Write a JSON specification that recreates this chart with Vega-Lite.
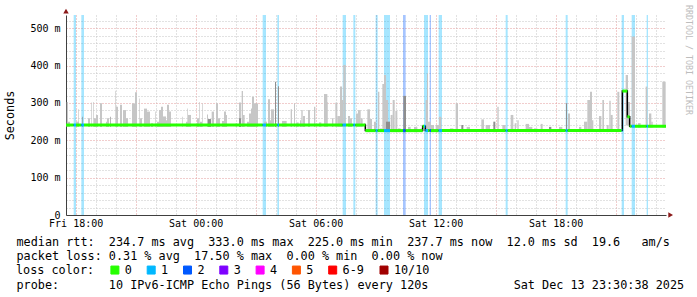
{
"$schema": "https://vega.github.io/schema/vega-lite/v6.json",
"width": 600, "height": 200,
"autosize": {"type": "none"},
"padding": {"left": 66, "top": 15, "right": 31, "bottom": 82},
"background": "white",
"title": {"text": "RRDTOOL / TOBI OETIKER", "orient": "right", "anchor": "start", "frame": "group", "font": "DejaVu Sans Mono", "fontSize": 8.3, "fontWeight": "normal", "color": "#bdbdbd", "offset": 1, "dx": -10},
"config": {"view": {"stroke": null}, "font": "DejaVu Sans Mono", "axis": {"labelFont": "DejaVu Sans Mono", "titleFont": "DejaVu Sans Mono", "labelOverlap": false}},
"datasets": {
"loss": [
{"t0":"2025-12-12T17:54:00Z","t1":"2025-12-12T18:01:00Z","loss":"1"},
{"t0":"2025-12-12T18:17:00Z","t1":"2025-12-12T18:25:00Z","loss":"1"},
{"t0":"2025-12-13T03:21:00Z","t1":"2025-12-13T03:31:00Z","loss":"1"},
{"t0":"2025-12-13T04:05:00Z","t1":"2025-12-13T04:10:00Z","loss":"1"},
{"t0":"2025-12-13T07:21:00Z","t1":"2025-12-13T07:31:00Z","loss":"1"},
{"t0":"2025-12-13T07:53:00Z","t1":"2025-12-13T07:59:00Z","loss":"1"},
{"t0":"2025-12-13T09:00:00Z","t1":"2025-12-13T09:06:00Z","loss":"1"},
{"t0":"2025-12-13T09:25:00Z","t1":"2025-12-13T09:43:00Z","loss":"1"},
{"t0":"2025-12-13T10:22:00Z","t1":"2025-12-13T10:30:00Z","loss":"2"},
{"t0":"2025-12-13T11:25:00Z","t1":"2025-12-13T11:37:00Z","loss":"1"},
{"t0":"2025-12-13T11:42:00Z","t1":"2025-12-13T11:46:00Z","loss":"2"},
{"t0":"2025-12-13T12:09:00Z","t1":"2025-12-13T12:19:00Z","loss":"1"},
{"t0":"2025-12-13T15:30:00Z","t1":"2025-12-13T15:36:00Z","loss":"1"},
{"t0":"2025-12-13T18:30:00Z","t1":"2025-12-13T18:36:00Z","loss":"1"},
{"t0":"2025-12-13T21:18:00Z","t1":"2025-12-13T21:25:00Z","loss":"1"},
{"t0":"2025-12-13T21:48:00Z","t1":"2025-12-13T21:58:00Z","loss":"1"},
{"t0":"2025-12-13T22:33:00Z","t1":"2025-12-13T22:37:00Z","loss":"1"}
],
"smoke": [
{"t0":"2025-12-12T17:33:00Z","t1":"2025-12-12T17:37:00Z","lo":236,"hi":303},
{"t0":"2025-12-12T17:37:00Z","t1":"2025-12-12T17:43:00Z","lo":236,"hi":250},
{"t0":"2025-12-12T18:01:00Z","t1":"2025-12-12T18:10:00Z","lo":236,"hi":250},
{"t0":"2025-12-12T18:07:00Z","t1":"2025-12-12T18:09:00Z","lo":236,"hi":283},
{"t0":"2025-12-12T18:37:00Z","t1":"2025-12-12T18:43:00Z","lo":236,"hi":259},
{"t0":"2025-12-12T18:46:00Z","t1":"2025-12-12T18:48:00Z","lo":236,"hi":301},
{"t0":"2025-12-12T18:52:00Z","t1":"2025-12-12T18:54:00Z","lo":236,"hi":303},
{"t0":"2025-12-12T18:55:00Z","t1":"2025-12-12T19:01:00Z","lo":236,"hi":259},
{"t0":"2025-12-12T19:01:00Z","t1":"2025-12-12T19:07:00Z","lo":236,"hi":268},
{"t0":"2025-12-12T19:13:00Z","t1":"2025-12-12T19:19:00Z","lo":236,"hi":299},
{"t0":"2025-12-12T19:31:00Z","t1":"2025-12-12T19:34:00Z","lo":236,"hi":250},
{"t0":"2025-12-12T19:34:00Z","t1":"2025-12-12T19:40:00Z","lo":236,"hi":259},
{"t0":"2025-12-12T19:58:00Z","t1":"2025-12-12T20:00:00Z","lo":236,"hi":333},
{"t0":"2025-12-12T20:01:00Z","t1":"2025-12-12T20:07:00Z","lo":236,"hi":290},
{"t0":"2025-12-12T20:13:00Z","t1":"2025-12-12T20:19:00Z","lo":236,"hi":295},
{"t0":"2025-12-12T20:22:00Z","t1":"2025-12-12T20:31:00Z","lo":236,"hi":281},
{"t0":"2025-12-12T20:31:00Z","t1":"2025-12-12T20:37:00Z","lo":236,"hi":259},
{"t0":"2025-12-12T20:49:00Z","t1":"2025-12-12T20:58:00Z","lo":236,"hi":299},
{"t0":"2025-12-12T20:58:00Z","t1":"2025-12-12T21:04:00Z","lo":236,"hi":329},
{"t0":"2025-12-12T21:10:00Z","t1":"2025-12-12T21:12:00Z","lo":236,"hi":312},
{"t0":"2025-12-12T21:13:00Z","t1":"2025-12-12T21:19:00Z","lo":236,"hi":259},
{"t0":"2025-12-12T21:25:00Z","t1":"2025-12-12T21:34:00Z","lo":236,"hi":285},
{"t0":"2025-12-12T21:34:00Z","t1":"2025-12-12T21:43:00Z","lo":236,"hi":277},
{"t0":"2025-12-12T21:46:00Z","t1":"2025-12-12T21:52:00Z","lo":236,"hi":246},
{"t0":"2025-12-12T21:58:00Z","t1":"2025-12-12T22:00:00Z","lo":236,"hi":277},
{"t0":"2025-12-12T22:04:00Z","t1":"2025-12-12T22:10:00Z","lo":236,"hi":250},
{"t0":"2025-12-12T22:10:00Z","t1":"2025-12-12T22:16:00Z","lo":236,"hi":281},
{"t0":"2025-12-12T22:16:00Z","t1":"2025-12-12T22:22:00Z","lo":236,"hi":290},
{"t0":"2025-12-12T22:22:00Z","t1":"2025-12-12T22:31:00Z","lo":236,"hi":264},
{"t0":"2025-12-12T22:31:00Z","t1":"2025-12-12T22:34:00Z","lo":236,"hi":254},
{"t0":"2025-12-12T22:34:00Z","t1":"2025-12-12T22:40:00Z","lo":236,"hi":295},
{"t0":"2025-12-12T22:40:00Z","t1":"2025-12-12T22:46:00Z","lo":236,"hi":277},
{"t0":"2025-12-12T23:19:00Z","t1":"2025-12-12T23:21:00Z","lo":236,"hi":263},
{"t0":"2025-12-12T23:31:00Z","t1":"2025-12-12T23:37:00Z","lo":236,"hi":250},
{"t0":"2025-12-12T23:34:00Z","t1":"2025-12-12T23:36:00Z","lo":236,"hi":285},
{"t0":"2025-12-12T23:37:00Z","t1":"2025-12-12T23:46:00Z","lo":236,"hi":268},
{"t0":"2025-12-13T00:04:00Z","t1":"2025-12-13T00:10:00Z","lo":236,"hi":259},
{"t0":"2025-12-13T00:10:00Z","t1":"2025-12-13T00:12:00Z","lo":236,"hi":303},
{"t0":"2025-12-13T00:13:00Z","t1":"2025-12-13T00:19:00Z","lo":236,"hi":250},
{"t0":"2025-12-13T00:19:00Z","t1":"2025-12-13T00:21:00Z","lo":236,"hi":299},
{"t0":"2025-12-13T00:34:00Z","t1":"2025-12-13T00:37:00Z","lo":236,"hi":269},
{"t0":"2025-12-13T00:48:00Z","t1":"2025-12-13T00:55:00Z","lo":236,"hi":277},
{"t0":"2025-12-13T01:01:00Z","t1":"2025-12-13T01:07:00Z","lo":236,"hi":299},
{"t0":"2025-12-13T01:07:00Z","t1":"2025-12-13T01:13:00Z","lo":236,"hi":259},
{"t0":"2025-12-13T01:19:00Z","t1":"2025-12-13T01:25:00Z","lo":236,"hi":252},
{"t0":"2025-12-13T01:25:00Z","t1":"2025-12-13T01:31:00Z","lo":236,"hi":277},
{"t0":"2025-12-13T01:31:00Z","t1":"2025-12-13T01:34:00Z","lo":236,"hi":268},
{"t0":"2025-12-13T02:00:00Z","t1":"2025-12-13T02:04:00Z","lo":236,"hi":246},
{"t0":"2025-12-13T02:10:00Z","t1":"2025-12-13T02:16:00Z","lo":236,"hi":301},
{"t0":"2025-12-13T02:18:00Z","t1":"2025-12-13T02:22:00Z","lo":236,"hi":332},
{"t0":"2025-12-13T02:22:00Z","t1":"2025-12-13T02:27:00Z","lo":236,"hi":268},
{"t0":"2025-12-13T02:34:00Z","t1":"2025-12-13T02:40:00Z","lo":236,"hi":250},
{"t0":"2025-12-13T02:40:00Z","t1":"2025-12-13T02:46:00Z","lo":236,"hi":272},
{"t0":"2025-12-13T02:46:00Z","t1":"2025-12-13T02:49:00Z","lo":236,"hi":285},
{"t0":"2025-12-13T02:49:00Z","t1":"2025-12-13T02:55:00Z","lo":236,"hi":317},
{"t0":"2025-12-13T02:55:00Z","t1":"2025-12-13T03:07:00Z","lo":236,"hi":299},
{"t0":"2025-12-13T03:25:00Z","t1":"2025-12-13T03:34:00Z","lo":236,"hi":250},
{"t0":"2025-12-13T03:37:00Z","t1":"2025-12-13T03:43:00Z","lo":236,"hi":310},
{"t0":"2025-12-13T03:43:00Z","t1":"2025-12-13T03:46:00Z","lo":236,"hi":254},
{"t0":"2025-12-13T03:46:00Z","t1":"2025-12-13T03:55:00Z","lo":236,"hi":283},
{"t0":"2025-12-13T04:19:00Z","t1":"2025-12-13T04:33:00Z","lo":236,"hi":252},
{"t0":"2025-12-13T04:45:00Z","t1":"2025-12-13T04:49:00Z","lo":236,"hi":283},
{"t0":"2025-12-13T04:55:00Z","t1":"2025-12-13T04:58:00Z","lo":236,"hi":299},
{"t0":"2025-12-13T05:01:00Z","t1":"2025-12-13T05:09:00Z","lo":236,"hi":248},
{"t0":"2025-12-13T05:13:00Z","t1":"2025-12-13T05:16:00Z","lo":236,"hi":254},
{"t0":"2025-12-13T05:17:00Z","t1":"2025-12-13T05:21:00Z","lo":236,"hi":281},
{"t0":"2025-12-13T05:22:00Z","t1":"2025-12-13T05:28:00Z","lo":236,"hi":265},
{"t0":"2025-12-13T05:37:00Z","t1":"2025-12-13T05:43:00Z","lo":236,"hi":281},
{"t0":"2025-12-13T05:55:00Z","t1":"2025-12-13T05:59:00Z","lo":236,"hi":290},
{"t0":"2025-12-13T06:10:00Z","t1":"2025-12-13T06:17:00Z","lo":236,"hi":248},
{"t0":"2025-12-13T06:25:00Z","t1":"2025-12-13T06:35:00Z","lo":236,"hi":324},
{"t0":"2025-12-13T06:35:00Z","t1":"2025-12-13T06:37:00Z","lo":236,"hi":303},
{"t0":"2025-12-13T06:49:00Z","t1":"2025-12-13T06:53:00Z","lo":236,"hi":259},
{"t0":"2025-12-13T06:59:00Z","t1":"2025-12-13T07:05:00Z","lo":236,"hi":301},
{"t0":"2025-12-13T07:05:00Z","t1":"2025-12-13T07:13:00Z","lo":236,"hi":265},
{"t0":"2025-12-13T07:13:00Z","t1":"2025-12-13T07:19:00Z","lo":236,"hi":344},
{"t0":"2025-12-13T07:19:00Z","t1":"2025-12-13T07:23:00Z","lo":236,"hi":308},
{"t0":"2025-12-13T07:23:00Z","t1":"2025-12-13T07:30:00Z","lo":236,"hi":402},
{"t0":"2025-12-13T07:37:00Z","t1":"2025-12-13T07:43:00Z","lo":236,"hi":265},
{"t0":"2025-12-13T07:43:00Z","t1":"2025-12-13T07:49:00Z","lo":236,"hi":259},
{"t0":"2025-12-13T08:01:00Z","t1":"2025-12-13T08:07:00Z","lo":236,"hi":272},
{"t0":"2025-12-13T08:07:00Z","t1":"2025-12-13T08:15:00Z","lo":236,"hi":281},
{"t0":"2025-12-13T08:15:00Z","t1":"2025-12-13T08:21:00Z","lo":236,"hi":259},
{"t0":"2025-12-13T08:25:00Z","t1":"2025-12-13T08:31:00Z","lo":236,"hi":246},
{"t0":"2025-12-13T08:35:00Z","t1":"2025-12-13T08:43:00Z","lo":222,"hi":283},
{"t0":"2025-12-13T08:43:00Z","t1":"2025-12-13T08:49:00Z","lo":222,"hi":257},
{"t0":"2025-12-13T08:55:00Z","t1":"2025-12-13T09:01:00Z","lo":222,"hi":250},
{"t0":"2025-12-13T09:07:00Z","t1":"2025-12-13T09:11:00Z","lo":222,"hi":330},
{"t0":"2025-12-13T09:13:00Z","t1":"2025-12-13T09:19:00Z","lo":222,"hi":232},
{"t0":"2025-12-13T09:20:00Z","t1":"2025-12-13T09:25:00Z","lo":222,"hi":351},
{"t0":"2025-12-13T09:25:00Z","t1":"2025-12-13T09:31:00Z","lo":222,"hi":375},
{"t0":"2025-12-13T09:31:00Z","t1":"2025-12-13T09:37:00Z","lo":222,"hi":308},
{"t0":"2025-12-13T09:45:00Z","t1":"2025-12-13T09:51:00Z","lo":222,"hi":268},
{"t0":"2025-12-13T09:51:00Z","t1":"2025-12-13T09:57:00Z","lo":222,"hi":308},
{"t0":"2025-12-13T09:59:00Z","t1":"2025-12-13T10:05:00Z","lo":222,"hi":279},
{"t0":"2025-12-13T10:07:00Z","t1":"2025-12-13T10:15:00Z","lo":222,"hi":232},
{"t0":"2025-12-13T10:37:00Z","t1":"2025-12-13T10:45:00Z","lo":222,"hi":236},
{"t0":"2025-12-13T10:55:00Z","t1":"2025-12-13T11:05:00Z","lo":222,"hi":236},
{"t0":"2025-12-13T11:15:00Z","t1":"2025-12-13T11:21:00Z","lo":222,"hi":232},
{"t0":"2025-12-13T11:30:00Z","t1":"2025-12-13T11:34:00Z","lo":222,"hi":308},
{"t0":"2025-12-13T11:34:00Z","t1":"2025-12-13T11:37:00Z","lo":222,"hi":379},
{"t0":"2025-12-13T11:37:00Z","t1":"2025-12-13T11:45:00Z","lo":222,"hi":250},
{"t0":"2025-12-13T11:45:00Z","t1":"2025-12-13T11:55:00Z","lo":222,"hi":241},
{"t0":"2025-12-13T12:00:00Z","t1":"2025-12-13T12:10:00Z","lo":222,"hi":241},
{"t0":"2025-12-13T12:10:00Z","t1":"2025-12-13T12:17:00Z","lo":222,"hi":263},
{"t0":"2025-12-13T12:43:00Z","t1":"2025-12-13T12:53:00Z","lo":222,"hi":232},
{"t0":"2025-12-13T13:00:00Z","t1":"2025-12-13T13:07:00Z","lo":222,"hi":299},
{"t0":"2025-12-13T13:33:00Z","t1":"2025-12-13T13:43:00Z","lo":222,"hi":236},
{"t0":"2025-12-13T14:17:00Z","t1":"2025-12-13T14:25:00Z","lo":222,"hi":256},
{"t0":"2025-12-13T14:30:00Z","t1":"2025-12-13T14:43:00Z","lo":222,"hi":241},
{"t0":"2025-12-13T15:05:00Z","t1":"2025-12-13T15:09:00Z","lo":222,"hi":290},
{"t0":"2025-12-13T15:20:00Z","t1":"2025-12-13T15:30:00Z","lo":222,"hi":241},
{"t0":"2025-12-13T15:45:00Z","t1":"2025-12-13T15:53:00Z","lo":222,"hi":268},
{"t0":"2025-12-13T15:57:00Z","t1":"2025-12-13T16:01:00Z","lo":222,"hi":246},
{"t0":"2025-12-13T16:05:00Z","t1":"2025-12-13T16:09:00Z","lo":222,"hi":254},
{"t0":"2025-12-13T16:30:00Z","t1":"2025-12-13T16:40:00Z","lo":222,"hi":244},
{"t0":"2025-12-13T16:40:00Z","t1":"2025-12-13T16:50:00Z","lo":222,"hi":236},
{"t0":"2025-12-13T16:55:00Z","t1":"2025-12-13T17:05:00Z","lo":222,"hi":232},
{"t0":"2025-12-13T17:15:00Z","t1":"2025-12-13T17:21:00Z","lo":222,"hi":244},
{"t0":"2025-12-13T18:10:00Z","t1":"2025-12-13T18:20:00Z","lo":222,"hi":236},
{"t0":"2025-12-13T18:37:00Z","t1":"2025-12-13T18:43:00Z","lo":222,"hi":272},
{"t0":"2025-12-13T19:10:00Z","t1":"2025-12-13T19:17:00Z","lo":222,"hi":236},
{"t0":"2025-12-13T19:25:00Z","t1":"2025-12-13T19:35:00Z","lo":222,"hi":250},
{"t0":"2025-12-13T19:35:00Z","t1":"2025-12-13T19:43:00Z","lo":222,"hi":308},
{"t0":"2025-12-13T19:43:00Z","t1":"2025-12-13T19:49:00Z","lo":222,"hi":330},
{"t0":"2025-12-13T19:49:00Z","t1":"2025-12-13T19:53:00Z","lo":222,"hi":254},
{"t0":"2025-12-13T20:10:00Z","t1":"2025-12-13T20:17:00Z","lo":222,"hi":265},
{"t0":"2025-12-13T20:20:00Z","t1":"2025-12-13T20:25:00Z","lo":222,"hi":308},
{"t0":"2025-12-13T20:33:00Z","t1":"2025-12-13T20:39:00Z","lo":222,"hi":241},
{"t0":"2025-12-13T20:41:00Z","t1":"2025-12-13T20:45:00Z","lo":222,"hi":306},
{"t0":"2025-12-13T20:45:00Z","t1":"2025-12-13T20:51:00Z","lo":222,"hi":268},
{"t0":"2025-12-13T21:05:00Z","t1":"2025-12-13T21:11:00Z","lo":222,"hi":330},
{"t0":"2025-12-13T21:30:00Z","t1":"2025-12-13T21:37:00Z","lo":240,"hi":375},
{"t0":"2025-12-13T21:37:00Z","t1":"2025-12-13T21:43:00Z","lo":240,"hi":303},
{"t0":"2025-12-13T21:48:00Z","t1":"2025-12-13T21:58:00Z","lo":234,"hi":478},
{"t0":"2025-12-13T22:07:00Z","t1":"2025-12-13T22:15:00Z","lo":234,"hi":246},
{"t0":"2025-12-13T22:30:00Z","t1":"2025-12-13T22:35:00Z","lo":234,"hi":344},
{"t0":"2025-12-13T22:40:00Z","t1":"2025-12-13T22:47:00Z","lo":234,"hi":272},
{"t0":"2025-12-13T22:47:00Z","t1":"2025-12-13T22:51:00Z","lo":234,"hi":250},
{"t0":"2025-12-13T23:20:00Z","t1":"2025-12-13T23:30:00Z","lo":234,"hi":357}
],
"smoke2": [
{"t0":"2025-12-12T18:19:00Z","t1":"2025-12-12T18:21:00Z","lo":236,"hi":263},
{"t0":"2025-12-12T19:43:00Z","t1":"2025-12-12T19:45:00Z","lo":236,"hi":263},
{"t0":"2025-12-13T00:37:00Z","t1":"2025-12-13T00:46:00Z","lo":236,"hi":257},
{"t0":"2025-12-13T02:10:00Z","t1":"2025-12-13T02:16:00Z","lo":236,"hi":259},
{"t0":"2025-12-13T03:58:00Z","t1":"2025-12-13T04:01:00Z","lo":236,"hi":357},
{"t0":"2025-12-13T04:07:00Z","t1":"2025-12-13T04:10:00Z","lo":236,"hi":345},
{"t0":"2025-12-13T09:31:00Z","t1":"2025-12-13T09:43:00Z","lo":222,"hi":250},
{"t0":"2025-12-13T10:23:00Z","t1":"2025-12-13T10:31:00Z","lo":222,"hi":319},
{"t0":"2025-12-13T13:17:00Z","t1":"2025-12-13T13:23:00Z","lo":222,"hi":241},
{"t0":"2025-12-13T14:53:00Z","t1":"2025-12-13T14:59:00Z","lo":222,"hi":250},
{"t0":"2025-12-13T17:40:00Z","t1":"2025-12-13T17:47:00Z","lo":222,"hi":236},
{"t0":"2025-12-13T18:31:00Z","t1":"2025-12-13T18:34:00Z","lo":222,"hi":299}
],
"median": [
{"t0":"2025-12-12T17:31:00Z","t1":"2025-12-12T17:54:00Z","v":241,"loss":"0"},
{"t0":"2025-12-12T17:54:00Z","t1":"2025-12-12T18:01:00Z","v":241,"loss":"1"},
{"t0":"2025-12-12T18:01:00Z","t1":"2025-12-12T18:17:00Z","v":241,"loss":"0"},
{"t0":"2025-12-12T18:17:00Z","t1":"2025-12-12T18:25:00Z","v":241,"loss":"1"},
{"t0":"2025-12-12T18:25:00Z","t1":"2025-12-13T03:21:00Z","v":241,"loss":"0"},
{"t0":"2025-12-13T03:21:00Z","t1":"2025-12-13T03:31:00Z","v":241,"loss":"1"},
{"t0":"2025-12-13T03:31:00Z","t1":"2025-12-13T04:05:00Z","v":241,"loss":"0"},
{"t0":"2025-12-13T04:05:00Z","t1":"2025-12-13T04:10:00Z","v":241,"loss":"1"},
{"t0":"2025-12-13T04:10:00Z","t1":"2025-12-13T07:21:00Z","v":241,"loss":"0"},
{"t0":"2025-12-13T07:21:00Z","t1":"2025-12-13T07:31:00Z","v":241,"loss":"1"},
{"t0":"2025-12-13T07:31:00Z","t1":"2025-12-13T07:53:00Z","v":241,"loss":"0"},
{"t0":"2025-12-13T07:53:00Z","t1":"2025-12-13T07:59:00Z","v":241,"loss":"1"},
{"t0":"2025-12-13T07:59:00Z","t1":"2025-12-13T08:29:00Z","v":241,"loss":"0"},
{"t0":"2025-12-13T08:29:00Z","t1":"2025-12-13T09:00:00Z","v":226,"loss":"0"},
{"t0":"2025-12-13T09:00:00Z","t1":"2025-12-13T09:06:00Z","v":226,"loss":"1"},
{"t0":"2025-12-13T09:06:00Z","t1":"2025-12-13T09:25:00Z","v":226,"loss":"0"},
{"t0":"2025-12-13T09:25:00Z","t1":"2025-12-13T09:43:00Z","v":226,"loss":"1"},
{"t0":"2025-12-13T09:43:00Z","t1":"2025-12-13T10:22:00Z","v":226,"loss":"0"},
{"t0":"2025-12-13T10:22:00Z","t1":"2025-12-13T10:30:00Z","v":226,"loss":"2"},
{"t0":"2025-12-13T10:30:00Z","t1":"2025-12-13T11:21:00Z","v":226,"loss":"0"},
{"t0":"2025-12-13T11:21:00Z","t1":"2025-12-13T11:25:00Z","v":238,"loss":"0"},
{"t0":"2025-12-13T11:25:00Z","t1":"2025-12-13T11:29:00Z","v":238,"loss":"1"},
{"t0":"2025-12-13T11:29:00Z","t1":"2025-12-13T11:37:00Z","v":226,"loss":"1"},
{"t0":"2025-12-13T11:37:00Z","t1":"2025-12-13T11:42:00Z","v":226,"loss":"0"},
{"t0":"2025-12-13T11:42:00Z","t1":"2025-12-13T11:46:00Z","v":226,"loss":"2"},
{"t0":"2025-12-13T11:46:00Z","t1":"2025-12-13T12:09:00Z","v":226,"loss":"0"},
{"t0":"2025-12-13T12:09:00Z","t1":"2025-12-13T12:19:00Z","v":226,"loss":"1"},
{"t0":"2025-12-13T12:19:00Z","t1":"2025-12-13T15:30:00Z","v":226,"loss":"0"},
{"t0":"2025-12-13T15:30:00Z","t1":"2025-12-13T15:36:00Z","v":226,"loss":"1"},
{"t0":"2025-12-13T15:36:00Z","t1":"2025-12-13T18:30:00Z","v":226,"loss":"0"},
{"t0":"2025-12-13T18:30:00Z","t1":"2025-12-13T18:36:00Z","v":226,"loss":"1"},
{"t0":"2025-12-13T18:36:00Z","t1":"2025-12-13T21:18:00Z","v":226,"loss":"0"},
{"t0":"2025-12-13T21:18:00Z","t1":"2025-12-13T21:20:00Z","v":226,"loss":"1"},
{"t0":"2025-12-13T21:20:00Z","t1":"2025-12-13T21:35:00Z","v":332,"loss":"0"},
{"t0":"2025-12-13T21:35:00Z","t1":"2025-12-13T21:42:00Z","v":263,"loss":"0"},
{"t0":"2025-12-13T21:42:00Z","t1":"2025-12-13T21:48:00Z","v":237.7,"loss":"0"},
{"t0":"2025-12-13T21:48:00Z","t1":"2025-12-13T21:58:00Z","v":237.7,"loss":"1"},
{"t0":"2025-12-13T21:58:00Z","t1":"2025-12-13T22:33:00Z","v":237.7,"loss":"0"},
{"t0":"2025-12-13T22:33:00Z","t1":"2025-12-13T22:37:00Z","v":237.7,"loss":"1"},
{"t0":"2025-12-13T22:37:00Z","t1":"2025-12-13T23:31:00Z","v":237.7,"loss":"0"}
]
},
"layer": [
{
"data": {"name": "loss"},
"mark": {"type": "rect", "opacity": 0.35},
"encoding": {
"x": {"field": "t0", "type": "temporal", "scale": {"type": "utc", "domain": [{"year": 2025, "month": 12, "date": 12, "hours": 17, "minutes": 31, "utc": true}, {"year": 2025, "month": 12, "date": 13, "hours": 23, "minutes": 31, "utc": true}]},
"axis": {"orient": "bottom", "tickCount": 30, "grid": true, "gridColor": {"condition": {"test": "utchours(datum.value) % 3 == 0", "value": "#e39a9a"}, "value": "#c4c4c4"}, "gridDash": [1, 2], "domain": true, "domainColor": "#404040", "ticks": false, "tickSize": 0, "labelPadding": 3, "labelFontSize": 10, "labelColor": "#000000", "labelFlush": false, "labelOverlap": false,
"labelExpr": "utchours(datum.value) % 6 == 0 ? utcFormat(datum.value, '%a %H:%M') : ''",
"title": ["median rtt:\u00a0\u00a0234.7 ms avg\u00a0\u00a0333.0 ms max\u00a0\u00a0225.0 ms min\u00a0\u00a0237.7 ms now\u00a0\u00a012.0 ms sd\u00a0\u00a019.6\u00a0\u00a0\u00a0am/s", "packet loss: 0.31 % avg\u00a0\u00a017.50 % max\u00a0\u00a00.00 % min\u00a0\u00a00.00 % now", "\u200b", "probe:\u00a0\u00a0\u00a0\u00a0\u00a0\u00a0\u00a010 IPv6-ICMP Echo Pings (56 Bytes) every 120s\u00a0\u00a0\u00a0\u00a0\u00a0\u00a0\u00a0\u00a0\u00a0\u00a0\u00a0\u00a0Sat Dec 13 23:30:38 2025"],
"titleFontSize": 11.8, "titleFontWeight": "normal", "titleColor": "#000000", "titleAnchor": "start", "titleAlign": "left", "titleBaseline": "alphabetic", "titleX": -50, "titleY": 30.5, "titleLineHeight": 14.2}},
"x2": {"field": "t1"},
"color": {"field": "loss", "type": "nominal",
"scale": {"domain": ["0", "1", "2", "3", "4", "5", "6-9", "10/10"], "range": ["#26ff00", "#00b8ff", "#0059ff", "#7e00ff", "#ff00ff", "#ff5500", "#ff0000", "#a10000"]},
"legend": {"orient": "none", "legendX": -50, "legendY": 249, "direction": "horizontal", "title": "loss color:", "titleOrient": "left", "titleFont": "DejaVu Sans Mono", "titleFontSize": 11.8, "titleFontWeight": "normal", "titleColor": "#000000", "titlePadding": 14, "symbolType": "square", "symbolSize": 64, "symbolStrokeColor": "#000000", "symbolStrokeWidth": 1, "symbolOpacity": 1, "labelFont": "DejaVu Sans Mono", "labelFontSize": 11.8, "labelColor": "#000000", "labelOffset": 4, "columnPadding": 12.3, "padding": 0}}
}
},
{
"data": {"name": "smoke"},
"mark": {"type": "rect", "color": "#c6c6c6"},
"encoding": {
"x": {"field": "t0", "type": "temporal"},
"x2": {"field": "t1"},
"y": {"field": "lo", "type": "quantitative", "scale": {"domain": [0, 535.7], "nice": false, "zero": true},
"axis": {"orient": "left", "tickCount": 40, "values": [0, 20, 40, 60, 80, 100, 120, 140, 160, 180, 200, 220, 240, 260, 280, 300, 320, 340, 360, 380, 400, 420, 440, 460, 480, 500, 520], "grid": true, "gridColor": {"condition": {"test": "datum.value % 100 == 0", "value": "#e39a9a"}, "value": "#c4c4c4"}, "gridDash": [1, 2], "domain": true, "domainColor": "#404040", "ticks": false, "tickSize": 0, "labelPadding": 6, "labelFontSize": 10, "labelColor": "#000000", "labelFlush": false, "labelOverlap": false,
"labelExpr": "datum.value == 0 ? '0\u00a0\u00a0' : (datum.value % 100 == 0 ? datum.value + ' m' : '')",
"title": "Seconds", "titleFontSize": 11.8, "titleFontWeight": "normal", "titleColor": "#000000", "titleAngle": 270, "titleAlign": "center", "titleBaseline": "alphabetic", "titleX": -52.5, "titleY": 100}},
"y2": {"field": "hi"}
}
},
{
"data": {"name": "smoke2"},
"mark": {"type": "rect", "color": "#8e8e8e"},
"encoding": {
"x": {"field": "t0", "type": "temporal"},
"x2": {"field": "t1"},
"y": {"field": "lo", "type": "quantitative"},
"y2": {"field": "hi"}
}
},
{
"data": {"name": "median"},
"mark": {"type": "line", "interpolate": "step-after", "color": "#000000", "strokeWidth": 1.5},
"encoding": {
"x": {"field": "t0", "type": "temporal"},
"y": {"field": "v", "type": "quantitative"}
}
},
{
"data": {"name": "median"},
"mark": {"type": "rule", "strokeWidth": 3},
"encoding": {
"x": {"field": "t0", "type": "temporal"},
"x2": {"field": "t1"},
"y": {"field": "v", "type": "quantitative"},
"color": {"field": "loss", "type": "nominal", "legend": null}
}
},
{
"data": {"values": [{}]},
"mark": {"type": "point", "shape": "triangle-up", "filled": true, "size": 30, "color": "#8b1a1a", "opacity": 1},
"encoding": {
"x": {"datum": {"year": 2025, "month": 12, "date": 12, "hours": 17, "minutes": 31, "utc": true}, "type": "temporal"},
"y": {"datum": 546, "type": "quantitative"}
}
},
{
"data": {"values": [{}]},
"mark": {"type": "point", "shape": "triangle-right", "filled": true, "size": 30, "color": "#8b1a1a", "opacity": 1},
"encoding": {
"x": {"datum": {"year": 2025, "month": 12, "date": 13, "hours": 23, "minutes": 45, "utc": true}, "type": "temporal"},
"y": {"datum": 0, "type": "quantitative"}
}
}
]
}
